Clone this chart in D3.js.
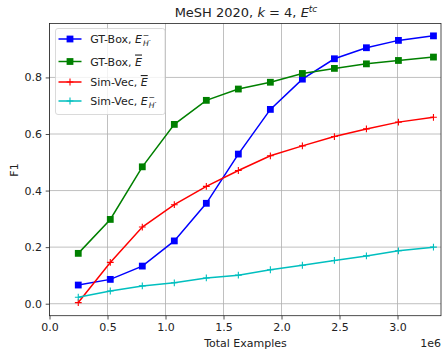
<!DOCTYPE html>
<html><head><meta charset="utf-8">
<script src="https://cdn.jsdelivr.net/npm/d3@7"></script>
<style>body{margin:0;background:#fff}svg{font-family:"DejaVu Sans",sans-serif}</style>
</head><body><svg id="c" width="445" height="349"></svg>
<script>
const xValues = [248000, 524000, 800000, 1076000, 1352000, 1628000, 1904000, 2180000, 2456000, 2732000, 3008000, 3310000];
const gtBoxEH = [0.066, 0.086, 0.133, 0.222, 0.355, 0.529, 0.687, 0.794, 0.866, 0.905, 0.931, 0.947];
const gtBoxE = [0.178, 0.298, 0.484, 0.634, 0.719, 0.759, 0.783, 0.814, 0.832, 0.848, 0.860, 0.872];
const simVecE = [0.004, 0.146, 0.271, 0.350, 0.415, 0.471, 0.523, 0.558, 0.591, 0.618, 0.642, 0.659];
const simVecEH = [0.023, 0.045, 0.063, 0.074, 0.091, 0.101, 0.120, 0.136, 0.153, 0.169, 0.187, 0.200];
const xTicks = [0, 500000, 1000000, 1500000, 2000000, 2500000, 3000000];
const yTicks = [0, 0.2, 0.4, 0.6, 0.8];
const series = [
  {name:"GT-Box", sym:"EH", values:gtBoxEH, color:"#0000ff", marker:"square"},
  {name:"GT-Box", sym:"E", values:gtBoxE, color:"#008000", marker:"square"},
  {name:"Sim-Vec", sym:"E", values:simVecE, color:"#ff0000", marker:"plus"},
  {name:"Sim-Vec", sym:"EH", values:simVecEH, color:"#00bfbf", marker:"plus"}
];

const svg = d3.select("#c");
const L=49.5, R=441, T=23.5, B=315.7;
const x = d3.scaleLinear().domain([0, 3375000]).range([L, R]);
const y = d3.scaleLinear().domain([-0.0424, 0.9907]).range([B, T]);

// grid
const g = svg.append("g");
g.selectAll(".gx").data(xTicks).join("line").attr("x1",d=>x(d)).attr("x2",d=>x(d)).attr("y1",T).attr("y2",B).attr("stroke","#b0b0b0").attr("stroke-width",0.8);
g.selectAll(".gy").data(yTicks).join("line").attr("y1",d=>y(d)).attr("y2",d=>y(d)).attr("x1",L).attr("x2",R).attr("stroke","#b0b0b0").attr("stroke-width",0.8);

// axes
const xa = svg.append("g").attr("transform",`translate(0,${B})`).call(d3.axisBottom(x).tickValues(xTicks).tickFormat(d=>(d/1e6).toFixed(1)).tickSize(3.8).tickPadding(3.8));
const ya = svg.append("g").attr("transform",`translate(${L},0)`).call(d3.axisLeft(y).tickValues(yTicks).tickFormat(d=>d.toFixed(1)).tickSize(3.8).tickPadding(3.8));
[xa,ya].forEach(a=>{a.select(".domain").remove();a.selectAll("text").attr("font-size",11).attr("fill","#222").attr("font-family","DejaVu Sans");a.selectAll("line").attr("stroke","#222").attr("stroke-width",0.8);});
svg.append("rect").attr("x",L).attr("y",T).attr("width",R-L).attr("height",B-T).attr("fill","none").attr("stroke","#222").attr("stroke-width",0.8);

// lines
const line = d3.line().x((d,i)=>x(xValues[i])).y(d=>y(d));
function drawMarker(sel, m, color, cx, cy){
  if(m==="square"){
    sel.append("rect").attr("x",cx-3.4).attr("y",cy-3.4).attr("width",6.8).attr("height",6.8).attr("fill",color);
  } else {
    sel.append("path").attr("d",`M${cx-3.4},${cy}H${cx+3.4}M${cx},${cy-3.4}V${cy+3.4}`).attr("stroke",color).attr("stroke-width",1.1);
  }
}
series.forEach(s=>{
  svg.append("path").datum(s.values).attr("d",line).attr("fill","none").attr("stroke",s.color).attr("stroke-width",1.5);
  const mg = svg.append("g");
  s.values.forEach((v,i)=>drawMarker(mg, s.marker, s.color, x(xValues[i]), y(v)));
});

// legend
const lg = svg.append("g");
lg.append("rect").attr("x",55.5).attr("y",28.5).attr("width",109.5).attr("height",86).attr("rx",2.5).attr("fill","#fff").attr("fill-opacity",0.8).attr("stroke","#d0d0d0").attr("stroke-width",0.8);
const ly = [39, 61.5, 82, 101];
series.forEach((s,i)=>{
  lg.append("line").attr("x1",58.5).attr("x2",81.5).attr("y1",ly[i]).attr("y2",ly[i]).attr("stroke",s.color).attr("stroke-width",1.5);
  drawMarker(lg, s.marker, s.color, 70, ly[i]);
  const t = lg.append("text").attr("x",90.2).attr("y",ly[i]+4).attr("font-size",11).attr("fill","#222");
  t.append("tspan").text(s.name+", ");
  if(s.sym==="E"){
    t.append("tspan").attr("font-style","italic").attr("text-decoration","overline").text("E");
  } else {
    t.append("tspan").attr("font-style","italic").text("E");
    t.append("tspan").attr("font-size",7.7).attr("dy",-5).attr("dx",0.8).text("\u2212");
    t.append("tspan").attr("font-size",7.7).attr("font-style","italic").attr("dy",7.5).attr("dx",-6.3).text("H");
    t.append("tspan").attr("font-size",7).attr("dy",-3).text("\u00b7");
  }
});

// title
const tt = svg.append("text").attr("x",246).attr("y",17.3).attr("text-anchor","middle").attr("font-size",13).attr("fill","#222");
tt.append("tspan").text("MeSH 2020, ");
tt.append("tspan").attr("font-style","italic").text("k");
tt.append("tspan").text(" = 4, ");
tt.append("tspan").attr("font-style","italic").text("E");
tt.append("tspan").attr("font-style","italic").attr("font-size",9).attr("dy",-5.5).text("tc");

// axis labels
svg.append("text").attr("x",245.5).attr("y",346.5).attr("text-anchor","middle").attr("font-size",11).attr("fill","#222").text("Total Examples");
svg.append("text").attr("x",441).attr("y",346.5).attr("text-anchor","end").attr("font-size",11).attr("fill","#222").text("1e6");
svg.append("text").attr("transform","translate(17.5,170) rotate(-90)").attr("text-anchor","middle").attr("font-size",11).attr("fill","#222").text("F1");
</script></body></html>
